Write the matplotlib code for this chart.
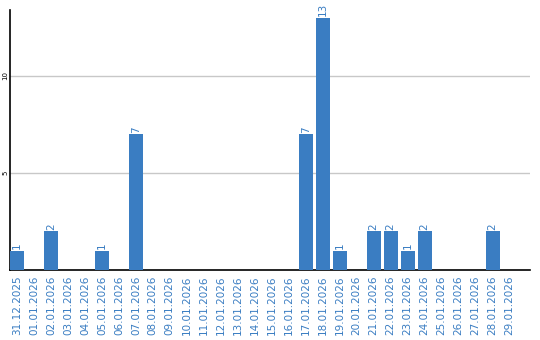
import matplotlib
matplotlib.use('Agg')
import matplotlib.pyplot as plt

dates = ['31.12.2025', '01.01.2026', '02.01.2026', '03.01.2026', '04.01.2026',
         '05.01.2026', '06.01.2026', '07.01.2026', '08.01.2026', '09.01.2026',
         '10.01.2026', '11.01.2026', '12.01.2026', '13.01.2026', '14.01.2026',
         '15.01.2026', '16.01.2026', '17.01.2026', '18.01.2026', '19.01.2026',
         '20.01.2026', '21.01.2026', '22.01.2026', '23.01.2026', '24.01.2026',
         '25.01.2026', '26.01.2026', '27.01.2026', '28.01.2026', '29.01.2026']
counts = [1, 0, 2, 0, 0, 1, 0, 7, 0, 0,
          0, 0, 0, 0, 0, 0, 0, 7, 13, 1,
          0, 2, 2, 1, 2, 0, 0, 0, 2, 0]

blue = '#3a7dc2'

fig = plt.figure(figsize=(5.4, 3.4), dpi=100)
ax = fig.add_axes([10 / 540, 70 / 340, 520 / 540, 260 / 340])

x = list(range(len(dates)))
ax.bar(x, counts, width=0.82, color=blue, zorder=3)
for i, c in enumerate(counts):
    if c > 0:
        ax.text(i, c + 0.08, str(c), rotation=90, ha='center', va='bottom',
                color=blue, fontsize=7.5)

ax.set_xlim(-0.41, 30.2)
ax.set_ylim(0, 13.4)
ax.set_yticks([5, 10])
ax.set_yticklabels(['5', '10'], rotation=90, va='center', fontsize=5)
ax.yaxis.grid(True, color='#c8c8c8', linewidth=1, zorder=0)
ax.tick_params(axis='y', length=0, pad=1)
ax.set_xticks(x)
ax.set_xticklabels(dates, rotation=90, color=blue, fontsize=7.5)
ax.tick_params(axis='x', length=0, pad=4)

for s in ['top', 'right']:
    ax.spines[s].set_visible(False)
ax.spines['left'].set_linewidth(1.2)
ax.spines['bottom'].set_linewidth(1.2)

fig.savefig('out.png', dpi=100)
